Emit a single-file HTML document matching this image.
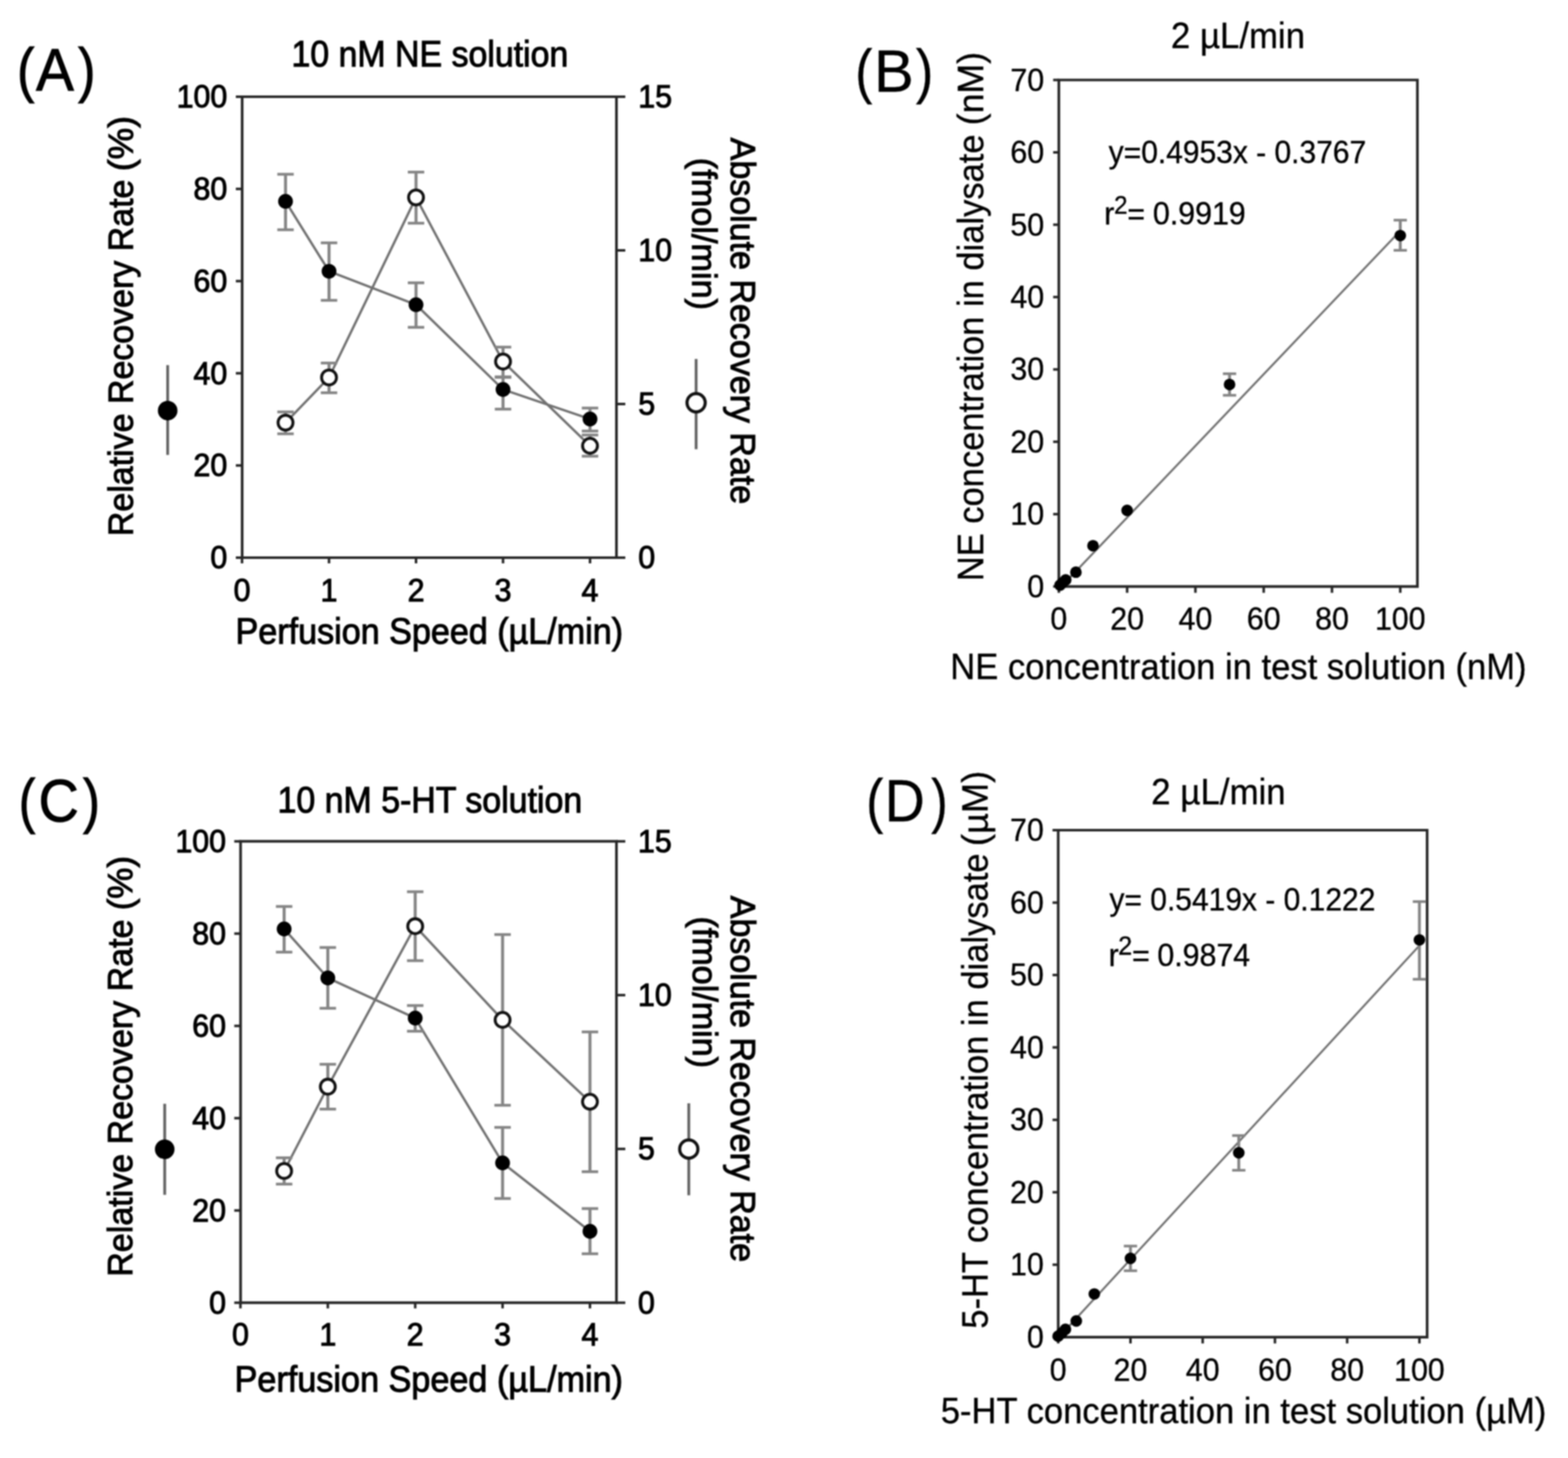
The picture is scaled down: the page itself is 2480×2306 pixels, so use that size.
<!DOCTYPE html>
<html><head><meta charset="utf-8"><title>Figure</title>
<style>
html,body{margin:0;padding:0;background:#fff;}
body{width:2480px;height:2306px;overflow:hidden;}
svg{display:block;}
text{font-family:'Liberation Sans', Arial, Helvetica, sans-serif;stroke:#000000;stroke-width:1.4px;}
text.lt{stroke-width:0.5px;}
#fig{filter:blur(1.1px);}
</style></head>
<body>
<svg id="fig" xmlns="http://www.w3.org/2000/svg" width="2480" height="2306" viewBox="0 0 2480 2306">
<rect width="2480" height="2306" fill="#fff"/>
<g fill="#000000">
<path d="M383,153 L975,153 L975,882 L383,882 Z" fill="none" stroke="#262626" stroke-width="4.2"/>
<line x1="373.0" y1="882.0" x2="383.0" y2="882.0" stroke="#262626" stroke-width="4" stroke-linecap="butt"/>
<text transform="translate(359.50 899.20) scale(1 1.04)" font-size="48" text-anchor="end">0</text>
<line x1="373.0" y1="736.2" x2="383.0" y2="736.2" stroke="#262626" stroke-width="4" stroke-linecap="butt"/>
<text transform="translate(359.50 753.40) scale(1 1.04)" font-size="48" text-anchor="end">20</text>
<line x1="373.0" y1="590.4" x2="383.0" y2="590.4" stroke="#262626" stroke-width="4" stroke-linecap="butt"/>
<text transform="translate(359.50 607.60) scale(1 1.04)" font-size="48" text-anchor="end">40</text>
<line x1="373.0" y1="444.6" x2="383.0" y2="444.6" stroke="#262626" stroke-width="4" stroke-linecap="butt"/>
<text transform="translate(359.50 461.80) scale(1 1.04)" font-size="48" text-anchor="end">60</text>
<line x1="373.0" y1="298.8" x2="383.0" y2="298.8" stroke="#262626" stroke-width="4" stroke-linecap="butt"/>
<text transform="translate(359.50 316.00) scale(1 1.04)" font-size="48" text-anchor="end">80</text>
<line x1="373.0" y1="153.0" x2="383.0" y2="153.0" stroke="#262626" stroke-width="4" stroke-linecap="butt"/>
<text transform="translate(359.50 170.20) scale(1 1.04)" font-size="48" text-anchor="end">100</text>
<line x1="975.0" y1="882.0" x2="989.0" y2="882.0" stroke="#262626" stroke-width="4" stroke-linecap="butt"/>
<text transform="translate(1009.50 899.20) scale(1 1.04)" font-size="48" text-anchor="start">0</text>
<line x1="975.0" y1="639.0" x2="989.0" y2="639.0" stroke="#262626" stroke-width="4" stroke-linecap="butt"/>
<text transform="translate(1009.50 656.20) scale(1 1.04)" font-size="48" text-anchor="start">5</text>
<line x1="975.0" y1="396.0" x2="989.0" y2="396.0" stroke="#262626" stroke-width="4" stroke-linecap="butt"/>
<text transform="translate(1009.50 413.20) scale(1 1.04)" font-size="48" text-anchor="start">10</text>
<line x1="975.0" y1="153.0" x2="989.0" y2="153.0" stroke="#262626" stroke-width="4" stroke-linecap="butt"/>
<text transform="translate(1009.50 170.20) scale(1 1.04)" font-size="48" text-anchor="start">15</text>
<line x1="382.8" y1="882.0" x2="382.8" y2="891.0" stroke="#262626" stroke-width="4" stroke-linecap="butt"/>
<text transform="translate(382.80 950.50) scale(1 1.04)" font-size="48" text-anchor="middle">0</text>
<line x1="520.4" y1="882.0" x2="520.4" y2="891.0" stroke="#262626" stroke-width="4" stroke-linecap="butt"/>
<text transform="translate(520.40 950.50) scale(1 1.04)" font-size="48" text-anchor="middle">1</text>
<line x1="658.0" y1="882.0" x2="658.0" y2="891.0" stroke="#262626" stroke-width="4" stroke-linecap="butt"/>
<text transform="translate(658.00 950.50) scale(1 1.04)" font-size="48" text-anchor="middle">2</text>
<line x1="795.6" y1="882.0" x2="795.6" y2="891.0" stroke="#262626" stroke-width="4" stroke-linecap="butt"/>
<text transform="translate(795.60 950.50) scale(1 1.04)" font-size="48" text-anchor="middle">3</text>
<line x1="933.2" y1="882.0" x2="933.2" y2="891.0" stroke="#262626" stroke-width="4" stroke-linecap="butt"/>
<text transform="translate(933.20 950.50) scale(1 1.04)" font-size="48" text-anchor="middle">4</text>
<polyline points="451.6,318.4 520.4,429.1 658.0,481.9 795.6,616.0 933.2,662.7" fill="none" stroke="#717171" stroke-width="3.8" stroke-linejoin="round"/>
<polyline points="451.6,668.5 520.4,597.0 658.0,312.3 795.6,571.8 933.2,705.1" fill="none" stroke="#717171" stroke-width="3.8" stroke-linejoin="round"/>
<line x1="451.6" y1="275.6" x2="451.6" y2="363.4" stroke="#858585" stroke-width="4.8" stroke-linecap="butt"/>
<line x1="438.6" y1="275.6" x2="464.6" y2="275.6" stroke="#858585" stroke-width="4.3999999999999995" stroke-linecap="butt"/>
<line x1="438.6" y1="363.4" x2="464.6" y2="363.4" stroke="#858585" stroke-width="4.3999999999999995" stroke-linecap="butt"/>
<line x1="520.4" y1="384.1" x2="520.4" y2="475.0" stroke="#858585" stroke-width="4.8" stroke-linecap="butt"/>
<line x1="507.4" y1="384.1" x2="533.4" y2="384.1" stroke="#858585" stroke-width="4.3999999999999995" stroke-linecap="butt"/>
<line x1="507.4" y1="475.0" x2="533.4" y2="475.0" stroke="#858585" stroke-width="4.3999999999999995" stroke-linecap="butt"/>
<line x1="658.0" y1="447.3" x2="658.0" y2="517.7" stroke="#858585" stroke-width="4.8" stroke-linecap="butt"/>
<line x1="645.0" y1="447.3" x2="671.0" y2="447.3" stroke="#858585" stroke-width="4.3999999999999995" stroke-linecap="butt"/>
<line x1="645.0" y1="517.7" x2="671.0" y2="517.7" stroke="#858585" stroke-width="4.3999999999999995" stroke-linecap="butt"/>
<line x1="795.6" y1="596.0" x2="795.6" y2="647.1" stroke="#858585" stroke-width="4.8" stroke-linecap="butt"/>
<line x1="782.6" y1="596.0" x2="808.6" y2="596.0" stroke="#858585" stroke-width="4.3999999999999995" stroke-linecap="butt"/>
<line x1="782.6" y1="647.1" x2="808.6" y2="647.1" stroke="#858585" stroke-width="4.3999999999999995" stroke-linecap="butt"/>
<line x1="933.2" y1="645.4" x2="933.2" y2="681.7" stroke="#858585" stroke-width="4.8" stroke-linecap="butt"/>
<line x1="920.2" y1="645.4" x2="946.2" y2="645.4" stroke="#858585" stroke-width="4.3999999999999995" stroke-linecap="butt"/>
<line x1="920.2" y1="681.7" x2="946.2" y2="681.7" stroke="#858585" stroke-width="4.3999999999999995" stroke-linecap="butt"/>
<line x1="451.6" y1="651.5" x2="451.6" y2="686.1" stroke="#858585" stroke-width="4.8" stroke-linecap="butt"/>
<line x1="438.6" y1="651.5" x2="464.6" y2="651.5" stroke="#858585" stroke-width="4.3999999999999995" stroke-linecap="butt"/>
<line x1="438.6" y1="686.1" x2="464.6" y2="686.1" stroke="#858585" stroke-width="4.3999999999999995" stroke-linecap="butt"/>
<line x1="520.4" y1="574.2" x2="520.4" y2="621.2" stroke="#858585" stroke-width="4.8" stroke-linecap="butt"/>
<line x1="507.4" y1="574.2" x2="533.4" y2="574.2" stroke="#858585" stroke-width="4.3999999999999995" stroke-linecap="butt"/>
<line x1="507.4" y1="621.2" x2="533.4" y2="621.2" stroke="#858585" stroke-width="4.3999999999999995" stroke-linecap="butt"/>
<line x1="658.0" y1="272.2" x2="658.0" y2="353.0" stroke="#858585" stroke-width="4.8" stroke-linecap="butt"/>
<line x1="645.0" y1="272.2" x2="671.0" y2="272.2" stroke="#858585" stroke-width="4.3999999999999995" stroke-linecap="butt"/>
<line x1="645.0" y1="353.0" x2="671.0" y2="353.0" stroke="#858585" stroke-width="4.3999999999999995" stroke-linecap="butt"/>
<line x1="795.6" y1="549.0" x2="795.6" y2="596.9" stroke="#858585" stroke-width="4.8" stroke-linecap="butt"/>
<line x1="782.6" y1="549.0" x2="808.6" y2="549.0" stroke="#858585" stroke-width="4.3999999999999995" stroke-linecap="butt"/>
<line x1="782.6" y1="596.9" x2="808.6" y2="596.9" stroke="#858585" stroke-width="4.3999999999999995" stroke-linecap="butt"/>
<line x1="933.2" y1="688.0" x2="933.2" y2="721.5" stroke="#858585" stroke-width="4.8" stroke-linecap="butt"/>
<line x1="920.2" y1="688.0" x2="946.2" y2="688.0" stroke="#858585" stroke-width="4.3999999999999995" stroke-linecap="butt"/>
<line x1="920.2" y1="721.5" x2="946.2" y2="721.5" stroke="#858585" stroke-width="4.3999999999999995" stroke-linecap="butt"/>
<circle cx="451.6" cy="318.4" r="11.7" fill="#000"/>
<circle cx="520.4" cy="429.1" r="11.7" fill="#000"/>
<circle cx="658.0" cy="481.9" r="11.7" fill="#000"/>
<circle cx="795.6" cy="616.0" r="11.7" fill="#000"/>
<circle cx="933.2" cy="662.7" r="11.7" fill="#000"/>
<circle cx="451.6" cy="668.5" r="11.8" fill="#fff" stroke="#111" stroke-width="4.6"/>
<circle cx="520.4" cy="597.0" r="11.8" fill="#fff" stroke="#111" stroke-width="4.6"/>
<circle cx="658.0" cy="312.3" r="11.8" fill="#fff" stroke="#111" stroke-width="4.6"/>
<circle cx="795.6" cy="571.8" r="11.8" fill="#fff" stroke="#111" stroke-width="4.6"/>
<circle cx="933.2" cy="705.1" r="11.8" fill="#fff" stroke="#111" stroke-width="4.6"/>
<line x1="265.2" y1="577.4" x2="265.2" y2="719.5" stroke="#626262" stroke-width="4.4" stroke-linecap="butt"/>
<circle cx="265.2" cy="649.4" r="15.5" fill="#000"/>
<line x1="1101.0" y1="567.8" x2="1101.0" y2="710.5" stroke="#626262" stroke-width="4.4" stroke-linecap="butt"/>
<circle cx="1101.0" cy="637.0" r="14.4" fill="#fff" stroke="#111" stroke-width="5"/>
<text transform="translate(27.06 142.80)" font-size="94" text-anchor="start" textLength="27.40" lengthAdjust="spacingAndGlyphs">(</text>
<text transform="translate(57.08 142.80)" font-size="94" text-anchor="start" textLength="59.80" lengthAdjust="spacingAndGlyphs">A</text>
<text transform="translate(123.58 142.80)" font-size="94" text-anchor="start" textLength="27.53" lengthAdjust="spacingAndGlyphs">)</text>
<text transform="translate(460.98 104.60) scale(1 1.05)" font-size="54" text-anchor="start" textLength="437.86" lengthAdjust="spacingAndGlyphs">10 nM NE solution</text>
<text transform="translate(372.55 1017.80) scale(1 1.05)" font-size="54" text-anchor="start" textLength="612.81" lengthAdjust="spacingAndGlyphs">Perfusion Speed (µL/min)</text>
<text transform="translate(210.30 847.93) rotate(-90) scale(1 1.03)" font-size="54" text-anchor="start" textLength="563.83" lengthAdjust="spacingAndGlyphs">Relative Recovery Rate</text>
<text transform="translate(210.30 270.71) rotate(-90) scale(1 1.03)" font-size="54" text-anchor="start" textLength="87.22" lengthAdjust="spacingAndGlyphs">(%)</text>
<text transform="translate(1155.80 217.87) rotate(90) scale(1 1.03)" font-size="54" text-anchor="start" textLength="579.47" lengthAdjust="spacingAndGlyphs">Absolute Recovery Rate</text>
<text transform="translate(1095.20 249.61) rotate(90) scale(1 1.03)" font-size="54" text-anchor="start" textLength="240.74" lengthAdjust="spacingAndGlyphs">(fmol/min)</text>
<path d="M380.5,1330.7 L975,1330.7 L975,2060.4 L380.5,2060.4 Z" fill="none" stroke="#262626" stroke-width="4.2"/>
<line x1="370.5" y1="2060.4" x2="380.5" y2="2060.4" stroke="#262626" stroke-width="4" stroke-linecap="butt"/>
<text transform="translate(357.50 2077.60) scale(1 1.04)" font-size="48" text-anchor="end">0</text>
<line x1="370.5" y1="1914.5" x2="380.5" y2="1914.5" stroke="#262626" stroke-width="4" stroke-linecap="butt"/>
<text transform="translate(357.50 1931.66) scale(1 1.04)" font-size="48" text-anchor="end">20</text>
<line x1="370.5" y1="1768.5" x2="380.5" y2="1768.5" stroke="#262626" stroke-width="4" stroke-linecap="butt"/>
<text transform="translate(357.50 1785.72) scale(1 1.04)" font-size="48" text-anchor="end">40</text>
<line x1="370.5" y1="1622.6" x2="380.5" y2="1622.6" stroke="#262626" stroke-width="4" stroke-linecap="butt"/>
<text transform="translate(357.50 1639.78) scale(1 1.04)" font-size="48" text-anchor="end">60</text>
<line x1="370.5" y1="1476.6" x2="380.5" y2="1476.6" stroke="#262626" stroke-width="4" stroke-linecap="butt"/>
<text transform="translate(357.50 1493.84) scale(1 1.04)" font-size="48" text-anchor="end">80</text>
<line x1="370.5" y1="1330.7" x2="380.5" y2="1330.7" stroke="#262626" stroke-width="4" stroke-linecap="butt"/>
<text transform="translate(357.50 1347.90) scale(1 1.04)" font-size="48" text-anchor="end">100</text>
<line x1="975.0" y1="2060.4" x2="989.0" y2="2060.4" stroke="#262626" stroke-width="4" stroke-linecap="butt"/>
<text transform="translate(1009.00 2077.60) scale(1 1.04)" font-size="48" text-anchor="start">0</text>
<line x1="975.0" y1="1817.2" x2="989.0" y2="1817.2" stroke="#262626" stroke-width="4" stroke-linecap="butt"/>
<text transform="translate(1009.00 1834.37) scale(1 1.04)" font-size="48" text-anchor="start">5</text>
<line x1="975.0" y1="1573.9" x2="989.0" y2="1573.9" stroke="#262626" stroke-width="4" stroke-linecap="butt"/>
<text transform="translate(1009.00 1591.13) scale(1 1.04)" font-size="48" text-anchor="start">10</text>
<line x1="975.0" y1="1330.7" x2="989.0" y2="1330.7" stroke="#262626" stroke-width="4" stroke-linecap="butt"/>
<text transform="translate(1009.00 1347.90) scale(1 1.04)" font-size="48" text-anchor="start">15</text>
<line x1="380.3" y1="2060.4" x2="380.3" y2="2069.4" stroke="#262626" stroke-width="4" stroke-linecap="butt"/>
<text transform="translate(380.30 2127.50) scale(1 1.04)" font-size="48" text-anchor="middle">0</text>
<line x1="518.5" y1="2060.4" x2="518.5" y2="2069.4" stroke="#262626" stroke-width="4" stroke-linecap="butt"/>
<text transform="translate(518.50 2127.50) scale(1 1.04)" font-size="48" text-anchor="middle">1</text>
<line x1="656.7" y1="2060.4" x2="656.7" y2="2069.4" stroke="#262626" stroke-width="4" stroke-linecap="butt"/>
<text transform="translate(656.70 2127.50) scale(1 1.04)" font-size="48" text-anchor="middle">2</text>
<line x1="794.9" y1="2060.4" x2="794.9" y2="2069.4" stroke="#262626" stroke-width="4" stroke-linecap="butt"/>
<text transform="translate(794.90 2127.50) scale(1 1.04)" font-size="48" text-anchor="middle">3</text>
<line x1="933.1" y1="2060.4" x2="933.1" y2="2069.4" stroke="#262626" stroke-width="4" stroke-linecap="butt"/>
<text transform="translate(933.10 2127.50) scale(1 1.04)" font-size="48" text-anchor="middle">4</text>
<polyline points="449.4,1469.2 518.5,1546.8 656.7,1610.3 794.9,1839.3 933.1,1947.5" fill="none" stroke="#717171" stroke-width="3.8" stroke-linejoin="round"/>
<polyline points="449.4,1852.0 518.5,1718.7 656.7,1464.9 794.9,1613.1 933.1,1742.6" fill="none" stroke="#717171" stroke-width="3.8" stroke-linejoin="round"/>
<line x1="449.4" y1="1433.7" x2="449.4" y2="1505.9" stroke="#858585" stroke-width="4.8" stroke-linecap="butt"/>
<line x1="436.4" y1="1433.7" x2="462.4" y2="1433.7" stroke="#858585" stroke-width="4.3999999999999995" stroke-linecap="butt"/>
<line x1="436.4" y1="1505.9" x2="462.4" y2="1505.9" stroke="#858585" stroke-width="4.3999999999999995" stroke-linecap="butt"/>
<line x1="518.5" y1="1498.6" x2="518.5" y2="1594.7" stroke="#858585" stroke-width="4.8" stroke-linecap="butt"/>
<line x1="505.5" y1="1498.6" x2="531.5" y2="1498.6" stroke="#858585" stroke-width="4.3999999999999995" stroke-linecap="butt"/>
<line x1="505.5" y1="1594.7" x2="531.5" y2="1594.7" stroke="#858585" stroke-width="4.3999999999999995" stroke-linecap="butt"/>
<line x1="656.7" y1="1590.4" x2="656.7" y2="1631.0" stroke="#858585" stroke-width="4.8" stroke-linecap="butt"/>
<line x1="643.7" y1="1590.4" x2="669.7" y2="1590.4" stroke="#858585" stroke-width="4.3999999999999995" stroke-linecap="butt"/>
<line x1="643.7" y1="1631.0" x2="669.7" y2="1631.0" stroke="#858585" stroke-width="4.3999999999999995" stroke-linecap="butt"/>
<line x1="794.9" y1="1783.1" x2="794.9" y2="1895.6" stroke="#858585" stroke-width="4.8" stroke-linecap="butt"/>
<line x1="781.9" y1="1783.1" x2="807.9" y2="1783.1" stroke="#858585" stroke-width="4.3999999999999995" stroke-linecap="butt"/>
<line x1="781.9" y1="1895.6" x2="807.9" y2="1895.6" stroke="#858585" stroke-width="4.3999999999999995" stroke-linecap="butt"/>
<line x1="933.1" y1="1911.5" x2="933.1" y2="1983.0" stroke="#858585" stroke-width="4.8" stroke-linecap="butt"/>
<line x1="920.1" y1="1911.5" x2="946.1" y2="1911.5" stroke="#858585" stroke-width="4.3999999999999995" stroke-linecap="butt"/>
<line x1="920.1" y1="1983.0" x2="946.1" y2="1983.0" stroke="#858585" stroke-width="4.3999999999999995" stroke-linecap="butt"/>
<line x1="449.4" y1="1831.2" x2="449.4" y2="1872.8" stroke="#858585" stroke-width="4.8" stroke-linecap="butt"/>
<line x1="436.4" y1="1831.2" x2="462.4" y2="1831.2" stroke="#858585" stroke-width="4.3999999999999995" stroke-linecap="butt"/>
<line x1="436.4" y1="1872.8" x2="462.4" y2="1872.8" stroke="#858585" stroke-width="4.3999999999999995" stroke-linecap="butt"/>
<line x1="518.5" y1="1683.3" x2="518.5" y2="1754.2" stroke="#858585" stroke-width="4.8" stroke-linecap="butt"/>
<line x1="505.5" y1="1683.3" x2="531.5" y2="1683.3" stroke="#858585" stroke-width="4.3999999999999995" stroke-linecap="butt"/>
<line x1="505.5" y1="1754.2" x2="531.5" y2="1754.2" stroke="#858585" stroke-width="4.3999999999999995" stroke-linecap="butt"/>
<line x1="656.7" y1="1410.4" x2="656.7" y2="1519.4" stroke="#858585" stroke-width="4.8" stroke-linecap="butt"/>
<line x1="643.7" y1="1410.4" x2="669.7" y2="1410.4" stroke="#858585" stroke-width="4.3999999999999995" stroke-linecap="butt"/>
<line x1="643.7" y1="1519.4" x2="669.7" y2="1519.4" stroke="#858585" stroke-width="4.3999999999999995" stroke-linecap="butt"/>
<line x1="794.9" y1="1478.1" x2="794.9" y2="1748.1" stroke="#858585" stroke-width="4.8" stroke-linecap="butt"/>
<line x1="781.9" y1="1478.1" x2="807.9" y2="1478.1" stroke="#858585" stroke-width="4.3999999999999995" stroke-linecap="butt"/>
<line x1="781.9" y1="1748.1" x2="807.9" y2="1748.1" stroke="#858585" stroke-width="4.3999999999999995" stroke-linecap="butt"/>
<line x1="933.1" y1="1632.1" x2="933.1" y2="1853.2" stroke="#858585" stroke-width="4.8" stroke-linecap="butt"/>
<line x1="920.1" y1="1632.1" x2="946.1" y2="1632.1" stroke="#858585" stroke-width="4.3999999999999995" stroke-linecap="butt"/>
<line x1="920.1" y1="1853.2" x2="946.1" y2="1853.2" stroke="#858585" stroke-width="4.3999999999999995" stroke-linecap="butt"/>
<circle cx="449.4" cy="1469.2" r="11.7" fill="#000"/>
<circle cx="518.5" cy="1546.8" r="11.7" fill="#000"/>
<circle cx="656.7" cy="1610.3" r="11.7" fill="#000"/>
<circle cx="794.9" cy="1839.3" r="11.7" fill="#000"/>
<circle cx="933.1" cy="1947.5" r="11.7" fill="#000"/>
<circle cx="449.4" cy="1852.0" r="11.8" fill="#fff" stroke="#111" stroke-width="4.6"/>
<circle cx="518.5" cy="1718.7" r="11.8" fill="#fff" stroke="#111" stroke-width="4.6"/>
<circle cx="656.7" cy="1464.9" r="11.8" fill="#fff" stroke="#111" stroke-width="4.6"/>
<circle cx="794.9" cy="1613.1" r="11.8" fill="#fff" stroke="#111" stroke-width="4.6"/>
<circle cx="933.1" cy="1742.6" r="11.8" fill="#fff" stroke="#111" stroke-width="4.6"/>
<line x1="260.5" y1="1745.7" x2="260.5" y2="1889.8" stroke="#626262" stroke-width="4.4" stroke-linecap="butt"/>
<circle cx="260.5" cy="1817.7" r="15.5" fill="#000"/>
<line x1="1089.4" y1="1745.0" x2="1089.4" y2="1890.5" stroke="#626262" stroke-width="4.4" stroke-linecap="butt"/>
<circle cx="1089.4" cy="1817.4" r="14.4" fill="#fff" stroke="#111" stroke-width="5"/>
<text transform="translate(29.80 1298.80)" font-size="94" text-anchor="start" textLength="26.13" lengthAdjust="spacingAndGlyphs">(</text>
<text transform="translate(60.99 1298.80)" font-size="94" text-anchor="start" textLength="63.71" lengthAdjust="spacingAndGlyphs">C</text>
<text transform="translate(131.20 1298.80)" font-size="94" text-anchor="start" textLength="26.77" lengthAdjust="spacingAndGlyphs">)</text>
<text transform="translate(438.98 1284.70) scale(1 1.05)" font-size="54" text-anchor="start" textLength="481.87" lengthAdjust="spacingAndGlyphs">10 nM 5-HT solution</text>
<text transform="translate(371.04 2200.50) scale(1 1.05)" font-size="54" text-anchor="start" textLength="614.32" lengthAdjust="spacingAndGlyphs">Perfusion Speed (µL/min)</text>
<text transform="translate(208.60 2019.24) rotate(-90) scale(1 1.03)" font-size="54" text-anchor="start" textLength="564.84" lengthAdjust="spacingAndGlyphs">Relative Recovery Rate</text>
<text transform="translate(208.60 1439.86) rotate(-90) scale(1 1.03)" font-size="54" text-anchor="start" textLength="86.13" lengthAdjust="spacingAndGlyphs">(%)</text>
<text transform="translate(1156.20 1416.87) rotate(90) scale(1 1.03)" font-size="54" text-anchor="start" textLength="579.17" lengthAdjust="spacingAndGlyphs">Absolute Recovery Rate</text>
<text transform="translate(1095.50 1449.43) rotate(90) scale(1 1.03)" font-size="54" text-anchor="start" textLength="239.92" lengthAdjust="spacingAndGlyphs">(fmol/min)</text>
<path d="M1674.7,126.5 L2241.8,126.5 L2241.8,927.6 L1674.7,927.6 Z" fill="none" stroke="#262626" stroke-width="4.2"/>
<line x1="1665.7" y1="927.6" x2="1674.7" y2="927.6" stroke="#262626" stroke-width="4" stroke-linecap="butt"/>
<text class="lt" transform="translate(1651.50 944.80) scale(1 1.04)" font-size="48" text-anchor="end">0</text>
<line x1="1665.7" y1="813.2" x2="1674.7" y2="813.2" stroke="#262626" stroke-width="4" stroke-linecap="butt"/>
<text class="lt" transform="translate(1651.50 830.36) scale(1 1.04)" font-size="48" text-anchor="end">10</text>
<line x1="1665.7" y1="698.7" x2="1674.7" y2="698.7" stroke="#262626" stroke-width="4" stroke-linecap="butt"/>
<text class="lt" transform="translate(1651.50 715.92) scale(1 1.04)" font-size="48" text-anchor="end">20</text>
<line x1="1665.7" y1="584.3" x2="1674.7" y2="584.3" stroke="#262626" stroke-width="4" stroke-linecap="butt"/>
<text class="lt" transform="translate(1651.50 601.48) scale(1 1.04)" font-size="48" text-anchor="end">30</text>
<line x1="1665.7" y1="469.8" x2="1674.7" y2="469.8" stroke="#262626" stroke-width="4" stroke-linecap="butt"/>
<text class="lt" transform="translate(1651.50 487.04) scale(1 1.04)" font-size="48" text-anchor="end">40</text>
<line x1="1665.7" y1="355.4" x2="1674.7" y2="355.4" stroke="#262626" stroke-width="4" stroke-linecap="butt"/>
<text class="lt" transform="translate(1651.50 372.60) scale(1 1.04)" font-size="48" text-anchor="end">50</text>
<line x1="1665.7" y1="241.0" x2="1674.7" y2="241.0" stroke="#262626" stroke-width="4" stroke-linecap="butt"/>
<text class="lt" transform="translate(1651.50 258.16) scale(1 1.04)" font-size="48" text-anchor="end">60</text>
<line x1="1665.7" y1="126.5" x2="1674.7" y2="126.5" stroke="#262626" stroke-width="4" stroke-linecap="butt"/>
<text class="lt" transform="translate(1651.50 143.72) scale(1 1.04)" font-size="48" text-anchor="end">70</text>
<line x1="1674.7" y1="927.6" x2="1674.7" y2="937.6" stroke="#262626" stroke-width="4" stroke-linecap="butt"/>
<text class="lt" transform="translate(1674.70 996.00) scale(1 1.04)" font-size="48" text-anchor="middle">0</text>
<line x1="1782.7" y1="927.6" x2="1782.7" y2="937.6" stroke="#262626" stroke-width="4" stroke-linecap="butt"/>
<text class="lt" transform="translate(1782.70 996.00) scale(1 1.04)" font-size="48" text-anchor="middle">20</text>
<line x1="1890.7" y1="927.6" x2="1890.7" y2="937.6" stroke="#262626" stroke-width="4" stroke-linecap="butt"/>
<text class="lt" transform="translate(1890.70 996.00) scale(1 1.04)" font-size="48" text-anchor="middle">40</text>
<line x1="1998.7" y1="927.6" x2="1998.7" y2="937.6" stroke="#262626" stroke-width="4" stroke-linecap="butt"/>
<text class="lt" transform="translate(1998.70 996.00) scale(1 1.04)" font-size="48" text-anchor="middle">60</text>
<line x1="2106.7" y1="927.6" x2="2106.7" y2="937.6" stroke="#262626" stroke-width="4" stroke-linecap="butt"/>
<text class="lt" transform="translate(2106.70 996.00) scale(1 1.04)" font-size="48" text-anchor="middle">80</text>
<line x1="2214.7" y1="927.6" x2="2214.7" y2="937.6" stroke="#262626" stroke-width="4" stroke-linecap="butt"/>
<text class="lt" transform="translate(2214.70 996.00) scale(1 1.04)" font-size="48" text-anchor="middle">100</text>
<line x1="1674.7" y1="931.9" x2="2214.7" y2="365.1" stroke="#717171" stroke-width="3.2" stroke-linecap="butt"/>
<line x1="1944.7" y1="591.1" x2="1944.7" y2="625.2" stroke="#858585" stroke-width="4.6" stroke-linecap="butt"/>
<line x1="1934.2" y1="591.1" x2="1955.2" y2="591.1" stroke="#858585" stroke-width="4.199999999999999" stroke-linecap="butt"/>
<line x1="1934.2" y1="625.2" x2="1955.2" y2="625.2" stroke="#858585" stroke-width="4.199999999999999" stroke-linecap="butt"/>
<line x1="2214.7" y1="348.2" x2="2214.7" y2="395.9" stroke="#858585" stroke-width="4.6" stroke-linecap="butt"/>
<line x1="2204.2" y1="348.2" x2="2225.2" y2="348.2" stroke="#858585" stroke-width="4.199999999999999" stroke-linecap="butt"/>
<line x1="2204.2" y1="395.9" x2="2225.2" y2="395.9" stroke="#858585" stroke-width="4.199999999999999" stroke-linecap="butt"/>
<circle cx="1676.6" cy="925.6" r="9.2" fill="#000"/>
<circle cx="1680.1" cy="921.9" r="9.2" fill="#000"/>
<circle cx="1685.5" cy="917.3" r="9.2" fill="#000"/>
<circle cx="1701.7" cy="904.9" r="9.2" fill="#000"/>
<circle cx="1728.7" cy="863.1" r="9.2" fill="#000"/>
<circle cx="1782.7" cy="807.3" r="9.2" fill="#000"/>
<circle cx="1944.7" cy="608.1" r="9.2" fill="#000"/>
<circle cx="2214.7" cy="372.6" r="9.2" fill="#000"/>
<text class="lt" transform="translate(1352.83 144.50)" font-size="94" text-anchor="start" textLength="27.02" lengthAdjust="spacingAndGlyphs">(</text>
<text class="lt" transform="translate(1382.31 144.50)" font-size="94" text-anchor="start" textLength="63.00" lengthAdjust="spacingAndGlyphs">B</text>
<text class="lt" transform="translate(1448.58 144.50)" font-size="94" text-anchor="start" textLength="27.66" lengthAdjust="spacingAndGlyphs">)</text>
<text class="lt" transform="translate(1852.05 75.50) scale(1 1.04)" font-size="55" text-anchor="start" textLength="212.06" lengthAdjust="spacingAndGlyphs">2 µL/min</text>
<text class="lt" transform="translate(1555.30 919.20) rotate(-90) scale(1 1.03)" font-size="55" text-anchor="start" textLength="706.53" lengthAdjust="spacingAndGlyphs">NE concentration in dialysate</text>
<text class="lt" transform="translate(1555.30 198.13) rotate(-90) scale(1 1.03)" font-size="55" text-anchor="start" textLength="116.07" lengthAdjust="spacingAndGlyphs">(nM)</text>
<text class="lt" transform="translate(1503.09 1074.00) scale(1 1.03)" font-size="55" text-anchor="start" textLength="911.32" lengthAdjust="spacingAndGlyphs">NE concentration in test solution (nM)</text>
<text class="lt" transform="translate(1753.48 257.50) scale(1 1.06)" font-size="48" text-anchor="start" textLength="407.29" lengthAdjust="spacingAndGlyphs">y=0.4953x - 0.3767</text>
<text class="lt" transform="translate(1746.50 354.50) scale(1 1.04)" font-size="48" text-anchor="start">r</text>
<text class="lt" transform="translate(1762.00 337.70) scale(1 1.04)" font-size="38.5" text-anchor="start">2</text>
<text class="lt" transform="translate(1783.00 354.50) scale(1 1.04)" font-size="48" text-anchor="start">=</text>
<text class="lt" transform="translate(1823.50 354.50) scale(1 1.06)" font-size="48" text-anchor="start">0.9919</text>
<path d="M1673.7,1313 L2257.2,1313 L2257.2,2114.8 L1673.7,2114.8 Z" fill="none" stroke="#262626" stroke-width="4.2"/>
<line x1="1664.7" y1="2114.8" x2="1673.7" y2="2114.8" stroke="#262626" stroke-width="4" stroke-linecap="butt"/>
<text class="lt" transform="translate(1651.00 2132.00) scale(1 1.04)" font-size="48" text-anchor="end">0</text>
<line x1="1664.7" y1="2000.3" x2="1673.7" y2="2000.3" stroke="#262626" stroke-width="4" stroke-linecap="butt"/>
<text class="lt" transform="translate(1651.00 2017.46) scale(1 1.04)" font-size="48" text-anchor="end">10</text>
<line x1="1664.7" y1="1885.7" x2="1673.7" y2="1885.7" stroke="#262626" stroke-width="4" stroke-linecap="butt"/>
<text class="lt" transform="translate(1651.00 1902.92) scale(1 1.04)" font-size="48" text-anchor="end">20</text>
<line x1="1664.7" y1="1771.2" x2="1673.7" y2="1771.2" stroke="#262626" stroke-width="4" stroke-linecap="butt"/>
<text class="lt" transform="translate(1651.00 1788.38) scale(1 1.04)" font-size="48" text-anchor="end">30</text>
<line x1="1664.7" y1="1656.6" x2="1673.7" y2="1656.6" stroke="#262626" stroke-width="4" stroke-linecap="butt"/>
<text class="lt" transform="translate(1651.00 1673.84) scale(1 1.04)" font-size="48" text-anchor="end">40</text>
<line x1="1664.7" y1="1542.1" x2="1673.7" y2="1542.1" stroke="#262626" stroke-width="4" stroke-linecap="butt"/>
<text class="lt" transform="translate(1651.00 1559.30) scale(1 1.04)" font-size="48" text-anchor="end">50</text>
<line x1="1664.7" y1="1427.6" x2="1673.7" y2="1427.6" stroke="#262626" stroke-width="4" stroke-linecap="butt"/>
<text class="lt" transform="translate(1651.00 1444.76) scale(1 1.04)" font-size="48" text-anchor="end">60</text>
<line x1="1664.7" y1="1313.0" x2="1673.7" y2="1313.0" stroke="#262626" stroke-width="4" stroke-linecap="butt"/>
<text class="lt" transform="translate(1651.00 1330.22) scale(1 1.04)" font-size="48" text-anchor="end">70</text>
<line x1="1673.7" y1="2114.8" x2="1673.7" y2="2124.8" stroke="#262626" stroke-width="4" stroke-linecap="butt"/>
<text class="lt" transform="translate(1673.70 2183.50) scale(1 1.04)" font-size="48" text-anchor="middle">0</text>
<line x1="1788.0" y1="2114.8" x2="1788.0" y2="2124.8" stroke="#262626" stroke-width="4" stroke-linecap="butt"/>
<text class="lt" transform="translate(1787.96 2183.50) scale(1 1.04)" font-size="48" text-anchor="middle">20</text>
<line x1="1902.2" y1="2114.8" x2="1902.2" y2="2124.8" stroke="#262626" stroke-width="4" stroke-linecap="butt"/>
<text class="lt" transform="translate(1902.22 2183.50) scale(1 1.04)" font-size="48" text-anchor="middle">40</text>
<line x1="2016.5" y1="2114.8" x2="2016.5" y2="2124.8" stroke="#262626" stroke-width="4" stroke-linecap="butt"/>
<text class="lt" transform="translate(2016.48 2183.50) scale(1 1.04)" font-size="48" text-anchor="middle">60</text>
<line x1="2130.7" y1="2114.8" x2="2130.7" y2="2124.8" stroke="#262626" stroke-width="4" stroke-linecap="butt"/>
<text class="lt" transform="translate(2130.74 2183.50) scale(1 1.04)" font-size="48" text-anchor="middle">80</text>
<line x1="2245.0" y1="2114.8" x2="2245.0" y2="2124.8" stroke="#262626" stroke-width="4" stroke-linecap="butt"/>
<text class="lt" transform="translate(2245.00 2183.50) scale(1 1.04)" font-size="48" text-anchor="middle">100</text>
<line x1="1673.7" y1="2116.2" x2="2245.0" y2="1495.5" stroke="#717171" stroke-width="3.2" stroke-linecap="butt"/>
<line x1="1788.0" y1="1970.8" x2="1788.0" y2="2009.8" stroke="#858585" stroke-width="4.6" stroke-linecap="butt"/>
<line x1="1777.5" y1="1970.8" x2="1798.5" y2="1970.8" stroke="#858585" stroke-width="4.199999999999999" stroke-linecap="butt"/>
<line x1="1777.5" y1="2009.8" x2="1798.5" y2="2009.8" stroke="#858585" stroke-width="4.199999999999999" stroke-linecap="butt"/>
<line x1="1959.3" y1="1796.0" x2="1959.3" y2="1850.9" stroke="#858585" stroke-width="4.6" stroke-linecap="butt"/>
<line x1="1948.8" y1="1796.0" x2="1969.8" y2="1796.0" stroke="#858585" stroke-width="4.199999999999999" stroke-linecap="butt"/>
<line x1="1948.8" y1="1850.9" x2="1969.8" y2="1850.9" stroke="#858585" stroke-width="4.199999999999999" stroke-linecap="butt"/>
<line x1="2245.0" y1="1426.0" x2="2245.0" y2="1548.8" stroke="#858585" stroke-width="4.6" stroke-linecap="butt"/>
<line x1="2234.5" y1="1426.0" x2="2255.5" y2="1426.0" stroke="#858585" stroke-width="4.199999999999999" stroke-linecap="butt"/>
<line x1="2234.5" y1="1548.8" x2="2255.5" y2="1548.8" stroke="#858585" stroke-width="4.199999999999999" stroke-linecap="butt"/>
<circle cx="1673.7" cy="2113.3" r="9.2" fill="#000"/>
<circle cx="1679.4" cy="2108.3" r="9.2" fill="#000"/>
<circle cx="1685.1" cy="2102.5" r="9.2" fill="#000"/>
<circle cx="1702.3" cy="2089.3" r="9.2" fill="#000"/>
<circle cx="1730.8" cy="2046.6" r="9.2" fill="#000"/>
<circle cx="1788.0" cy="1990.3" r="9.2" fill="#000"/>
<circle cx="1959.3" cy="1823.3" r="9.2" fill="#000"/>
<circle cx="2245.0" cy="1486.6" r="9.2" fill="#000"/>
<text class="lt" transform="translate(1370.00 1299.10)" font-size="94" text-anchor="start" textLength="27.15" lengthAdjust="spacingAndGlyphs">(</text>
<text class="lt" transform="translate(1399.26 1299.10)" font-size="94" text-anchor="start" textLength="63.38" lengthAdjust="spacingAndGlyphs">D</text>
<text class="lt" transform="translate(1472.71 1299.10)" font-size="94" text-anchor="start" textLength="26.13" lengthAdjust="spacingAndGlyphs">)</text>
<text class="lt" transform="translate(1820.84 1272.00) scale(1 1.04)" font-size="55" text-anchor="start" textLength="212.68" lengthAdjust="spacingAndGlyphs">2 µL/min</text>
<text class="lt" transform="translate(1561.80 2101.48) rotate(-90) scale(1 1.03)" font-size="55" text-anchor="start" textLength="751.72" lengthAdjust="spacingAndGlyphs">5-HT concentration in dialysate</text>
<text class="lt" transform="translate(1561.80 1338.19) rotate(-90) scale(1 1.03)" font-size="55" text-anchor="start" textLength="119.08" lengthAdjust="spacingAndGlyphs">(µM)</text>
<text class="lt" transform="translate(1487.91 2251.00) scale(1 1.03)" font-size="55" text-anchor="start" textLength="957.80" lengthAdjust="spacingAndGlyphs">5-HT concentration in test solution (µM)</text>
<text class="lt" transform="translate(1754.68 1439.80) scale(1 1.06)" font-size="48" text-anchor="start" textLength="420.61" lengthAdjust="spacingAndGlyphs">y= 0.5419x - 0.1222</text>
<text class="lt" transform="translate(1753.40 1528.30) scale(1 1.04)" font-size="48" text-anchor="start">r</text>
<text class="lt" transform="translate(1768.40 1510.20) scale(1 1.04)" font-size="40" text-anchor="start">2</text>
<text class="lt" transform="translate(1790.50 1528.30) scale(1 1.04)" font-size="48" text-anchor="start">=</text>
<text class="lt" transform="translate(1830.50 1528.30) scale(1 1.06)" font-size="48" text-anchor="start">0.9874</text>
</g>
</svg>
</body></html>
